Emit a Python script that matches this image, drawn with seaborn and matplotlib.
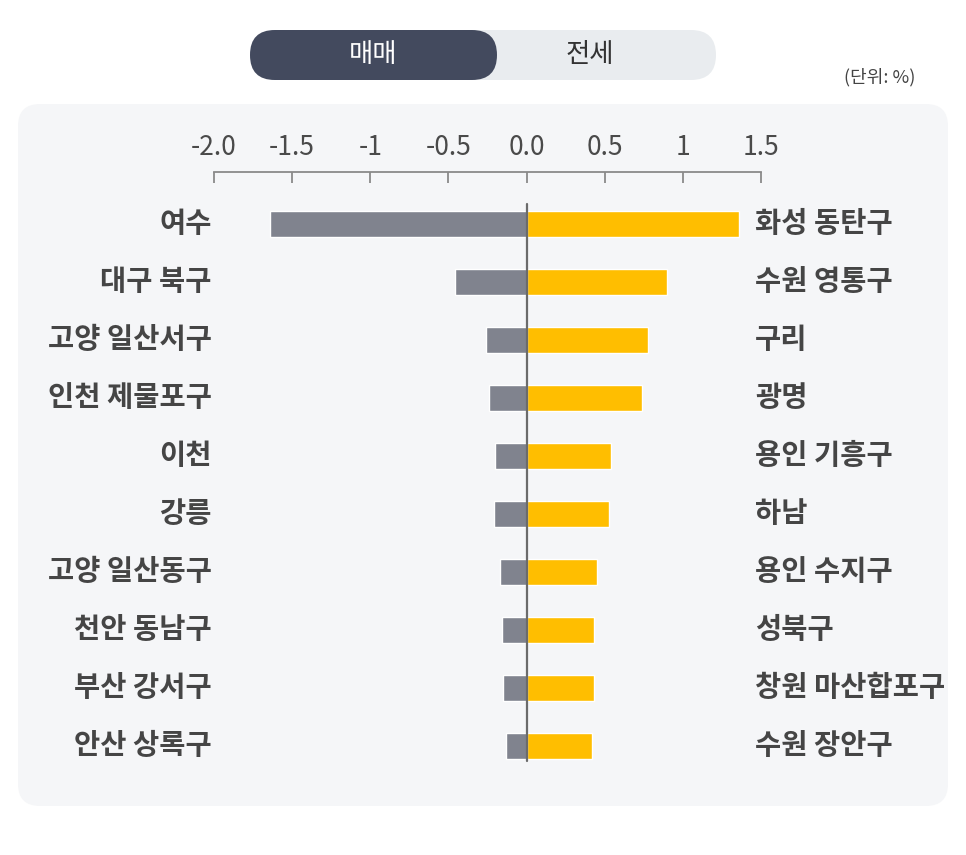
import matplotlib
matplotlib.use("Agg")
import matplotlib.pyplot as plt
from matplotlib.patches import FancyBboxPatch
import seaborn as sns
import pandas as pd

# 매매가격 변동률 상/하위 지역 (단위: %)
down_regions = ["여수", "대구 북구", "고양 일산서구", "인천 제물포구", "이천",
                "강릉", "고양 일산동구", "천안 동남구", "부산 강서구", "안산 상록구"]
down_values = [-1.64, -0.46, -0.26, -0.24, -0.20, -0.21, -0.17, -0.16, -0.15, -0.13]
up_regions = ["화성 동탄구", "수원 영통구", "구리", "광명", "용인 기흥구",
              "하남", "용인 수지구", "성북구", "창원 마산합포구", "수원 장안구"]
up_values = [1.36, 0.90, 0.78, 0.74, 0.54, 0.53, 0.45, 0.43, 0.43, 0.42]
tick_values = [-2.0, -1.5, -1.0, -0.5, 0.0, 0.5, 1.0, 1.5]
tick_labels = ["-2.0", "-1.5", "-1", "-0.5", "0.0", "0.5", "1", "1.5"]

df = pd.DataFrame({"rank": down_regions, "down": down_values, "up": up_values})

sns.set_theme(style="white")
plt.rcParams["font.family"] = ["Noto Sans CJK KR", "DejaVu Sans"]

W, H = 966, 855
fig = plt.figure(figsize=(W / 100, H / 100), dpi=100)
fig.patch.set_facecolor("white")

# background layer in pixel coords
bg = fig.add_axes([0, 0, 1, 1], zorder=0)
bg.set_xlim(0, W)
bg.set_ylim(H, 0)
bg.axis("off")
bg.add_patch(FancyBboxPatch((18, 104), 930, 702, boxstyle="round,pad=0,rounding_size=22",
                            fc="#f5f6f8", ec="none"))
bg.add_patch(FancyBboxPatch((250, 30), 466, 50, boxstyle="round,pad=0,rounding_size=25",
                            fc="#e9ecef", ec="none"))
bg.add_patch(FancyBboxPatch((250, 30), 247, 50, boxstyle="round,pad=0,rounding_size=25",
                            fc="#434a5e", ec="none"))
bg.text(373, 54, "매매", color="white", fontsize=19, ha="center", va="center")
bg.text(590, 54, "전세", color="#333333", fontsize=19, ha="center", va="center")
bg.text(880, 77, "(단위: %)", color="#444444", fontsize=13, ha="center", va="center")

# main chart
ax = fig.add_axes([214 / W, 1 - 775 / H, 547 / W, 580 / H], zorder=1)
ax.set_facecolor("none")
sns.barplot(data=df, x="down", y="rank", order=down_regions, orient="h",
            color="#80838e", saturation=1, width=0.44, ax=ax)
sns.barplot(data=df, x="up", y="rank", order=down_regions, orient="h",
            color="#ffbe00", saturation=1, width=0.44, ax=ax)
ax.set_xlim(-2.0, 1.5)
ax.axvline(0, ymin=0.025, ymax=0.985, color="#6b6b6b", lw=1.6, zorder=5)

ax.set_yticks([])
ax.set_ylabel("")
ax.set_xlabel("")
for i, (l, r) in enumerate(zip(down_regions, up_regions)):
    ax.text(-0.004, i, l, transform=ax.get_yaxis_transform(), ha="right", va="center",
            fontsize=20.5, fontweight="bold", color="#454545")
    ax.text(0.989, i, r, transform=ax.get_yaxis_transform(), ha="left", va="center",
            fontsize=20.5, fontweight="bold", color="#454545")

for s in ["left", "right", "bottom"]:
    ax.spines[s].set_visible(False)
ax.spines["top"].set_position(("outward", 16.5))
ax.spines["top"].set_color("#8a8a8a")
ax.spines["top"].set_linewidth(1.3)
ax.xaxis.tick_top()
ax.set_xticks(tick_values)
ax.set_xticklabels(tick_labels)
ax.tick_params(axis="x", direction="in", length=8, width=1.3, color="#8a8a8a",
               pad=8, labelsize=19, labelcolor="#4a4a4a", bottom=False, top=True)

fig.savefig("out.png", dpi=100)
